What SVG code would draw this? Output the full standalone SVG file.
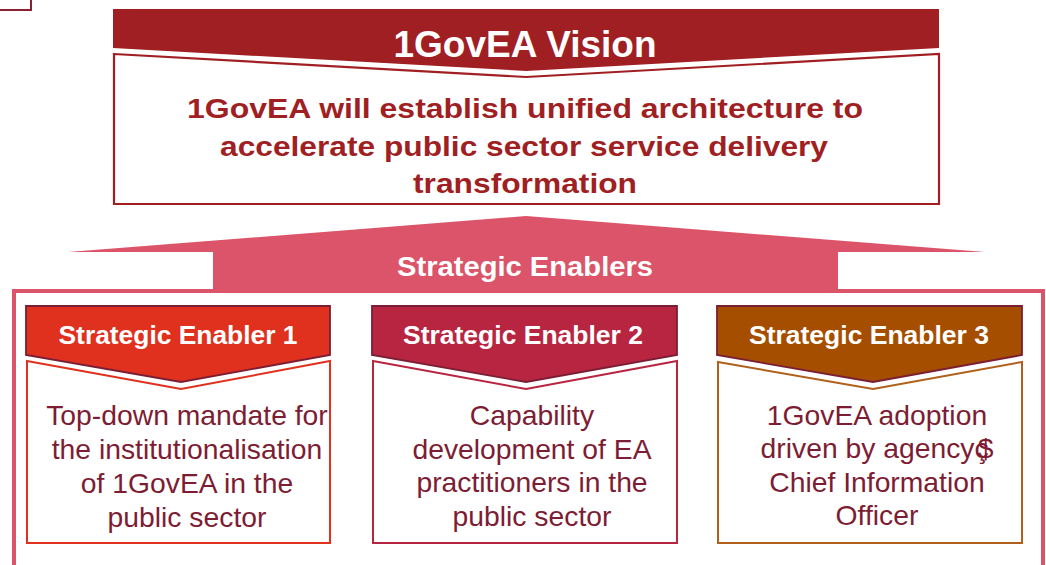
<svg xmlns="http://www.w3.org/2000/svg" width="1046" height="565" viewBox="0 0 1046 565">
<style>
text{font-family:"Liberation Sans",Arial,sans-serif;text-anchor:middle}
.b{font-weight:bold}
.w{fill:#ffffff}
.body{font-size:28.3px;fill:#7D1D33}
.hdr{font-size:26px;font-weight:bold;fill:#ffffff}
.hs{stroke:#7A1E35;stroke-width:1.8}
</style>
<rect width="1046" height="565" fill="#ffffff"/>
<path d="M0,10 H31 V0" fill="none" stroke="#8B2035" stroke-width="2"/>
<g id="vision">
<path d="M113,9 H939 V48 L526,71 L113,48 Z" fill="#A01F23"/>
<path d="M114,54 L526,77 L939,54 V204 H114 Z" fill="#ffffff" stroke="#A01F23" stroke-width="2.2"/>
<text x="525" y="57" class="b w" font-size="36.5" textLength="263" lengthAdjust="spacingAndGlyphs">1GovEA Vision</text>
<text class="b" font-size="28" fill="#A01F23"><tspan x="525" y="118" textLength="676" lengthAdjust="spacingAndGlyphs">1GovEA will establish unified architecture to</tspan></text>
<text class="b" font-size="28" fill="#A01F23"><tspan x="524" y="156" textLength="608" lengthAdjust="spacingAndGlyphs">accelerate public sector service delivery</tspan></text>
<text class="b" font-size="28" fill="#A01F23"><tspan x="525" y="193" textLength="224" lengthAdjust="spacingAndGlyphs">transformation</tspan></text>
</g>
<g id="enablers">
<path d="M68,252 L526,216 L985,252 H838 V291 H213 V252 Z" fill="#DB5469"/>
<path d="M14,565 V291 H1043 V565" fill="none" stroke="#DB5469" stroke-width="4"/>
<text x="525" y="276" class="b w" font-size="28.5" textLength="256" lengthAdjust="spacingAndGlyphs">Strategic Enablers</text>
</g>
<g id="enabler1">
<path d="M27,361 L181,389 L330,361 V543 H27 Z" fill="#ffffff" stroke="#E0301E" stroke-width="2"/>
<path d="M26,306 H330 V355 L181,382 L26,355 Z" fill="#E0301E" class="hs"/>
<text x="178" y="344" class="hdr" textLength="239" lengthAdjust="spacingAndGlyphs">Strategic Enabler 1</text>
<text class="body"><tspan x="187" y="425">Top-down mandate for</tspan><tspan x="187" y="459">the institutionalisation</tspan><tspan x="187" y="493">of 1GovEA in the</tspan><tspan x="187" y="527">public sector</tspan></text>
</g>
<g id="enabler2">
<path d="M373,361 L526,389 L677,361 V543 H373 Z" fill="#ffffff" stroke="#B82541" stroke-width="2"/>
<path d="M372,306 H677 V355 L526,382 L372,355 Z" fill="#B82541" class="hs"/>
<text x="523" y="344" class="hdr" textLength="240" lengthAdjust="spacingAndGlyphs">Strategic Enabler 2</text>
<text class="body"><tspan x="532" y="425">Capability</tspan><tspan x="532" y="459">development of EA</tspan><tspan x="532" y="492">practitioners in the</tspan><tspan x="532" y="526">public sector</tspan></text>
</g>
<g id="enabler3">
<path d="M718,362 L873,389 L1022,362 V543 H718 Z" fill="#ffffff" stroke="#B0601A" stroke-width="2"/>
<path d="M717,306 H1022 V355 L873,382 L717,355 Z" fill="#A64E00" class="hs"/>
<text x="869" y="344" class="hdr" textLength="240" lengthAdjust="spacingAndGlyphs">Strategic Enabler 3</text>
<text class="body"><tspan x="877" y="425">1GovEA adoption</tspan><tspan x="877" y="458">driven by agencyç<tspan dx="-11">$</tspan></tspan><tspan x="877" y="492">Chief Information</tspan><tspan x="877" y="525">Officer</tspan></text>
</g>
<g id="connectors"></g>
</svg>
